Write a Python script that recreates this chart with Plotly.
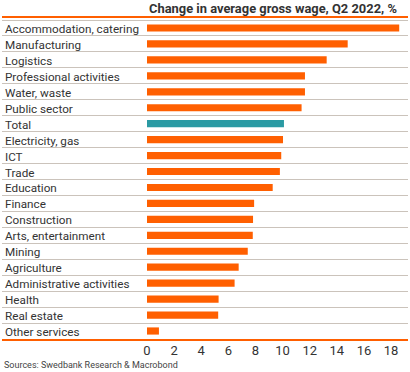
import plotly.graph_objects as go

categories = ["Accommodation, catering", "Manufacturing", "Logistics", "Professional activities",
              "Water, waste", "Public sector", "Total", "Electricity, gas", "ICT", "Trade",
              "Education", "Finance", "Construction", "Arts, entertainment", "Mining",
              "Agriculture", "Administrative activities", "Health", "Real estate", "Other services"]
values = [18.6, 14.8, 13.25, 11.65, 11.65, 11.4, 10.1, 10.03, 9.9, 9.8,
          9.27, 7.9, 7.82, 7.8, 7.43, 6.76, 6.46, 5.28, 5.25, 0.88]
tick_vals = [0, 2, 4, 6, 8, 10, 12, 14, 16, 18]
title_text = "Change in average gross wage, Q2 2022, %"
source_text = "Sources: Swedbank Research & Macrobond"

ORANGE = "#FF5F00"
TEAL = "#2A9AA3"
colors = [TEAL if c == "Total" else ORANGE for c in categories]

W, H = 410, 372
ml, mr, mt, mb = 2, 2, 18, 33
px_per_unit = 13.56
zero_px = 147
x_min = -(zero_px - ml) / px_per_unit
x_max = (W - mr - zero_px) / px_per_unit

fig = go.Figure(go.Bar(
    x=values, y=categories, orientation="h",
    marker=dict(color=colors, line=dict(width=0)),
    hoverinfo="skip",
))

annotations = [
    dict(text=c, xref="paper", yref="y", x=0, y=c, xanchor="left", yanchor="middle",
         xshift=1, yshift=-1, showarrow=False,
         font=dict(size=11.7, color="#333333", family="Roboto"))
    for c in categories
]
annotations += [
    dict(text="<b>" + title_text + "</b>", xref="x", yref="paper", x=0, y=1,
         xanchor="left", yanchor="bottom", yshift=0, showarrow=False,
         font=dict(size=12.9, color="#333333", family="Roboto")),
    dict(text=source_text, xref="paper", yref="paper", x=0, y=0,
         xanchor="left", yanchor="top", yshift=-19, showarrow=False,
         font=dict(size=9, color="#444444", family="Roboto")),
]

fig.update_layout(
    width=W, height=H,
    margin=dict(l=ml, r=mr, t=mt, b=mb, autoexpand=False),
    paper_bgcolor="white", plot_bgcolor="white",
    font=dict(family="Roboto", color="#333333"),
    bargap=0.55,
    showlegend=False,
    xaxis=dict(
        range=[x_min, x_max], tickvals=tick_vals, showgrid=False, zeroline=False,
        showline=True, linecolor=ORANGE, linewidth=2, mirror=True,
        ticks="", tickfont=dict(size=13, color="#333333"), ticklabelstandoff=-2,
        automargin=False, fixedrange=True,
    ),
    yaxis=dict(
        type="category", categoryorder="array", categoryarray=categories,
        autorange="reversed", tickson="boundaries", showgrid=True,
        gridcolor="#CBC3BB", gridwidth=1, ticks="", showline=False, zeroline=False,
        showticklabels=False, automargin=False, fixedrange=True,
    ),
    annotations=annotations,
)

fig.write_html("out.html", config={"displayModeBar": False},
               post_script="document.body.style.margin='0';document.body.style.overflow='hidden';")
